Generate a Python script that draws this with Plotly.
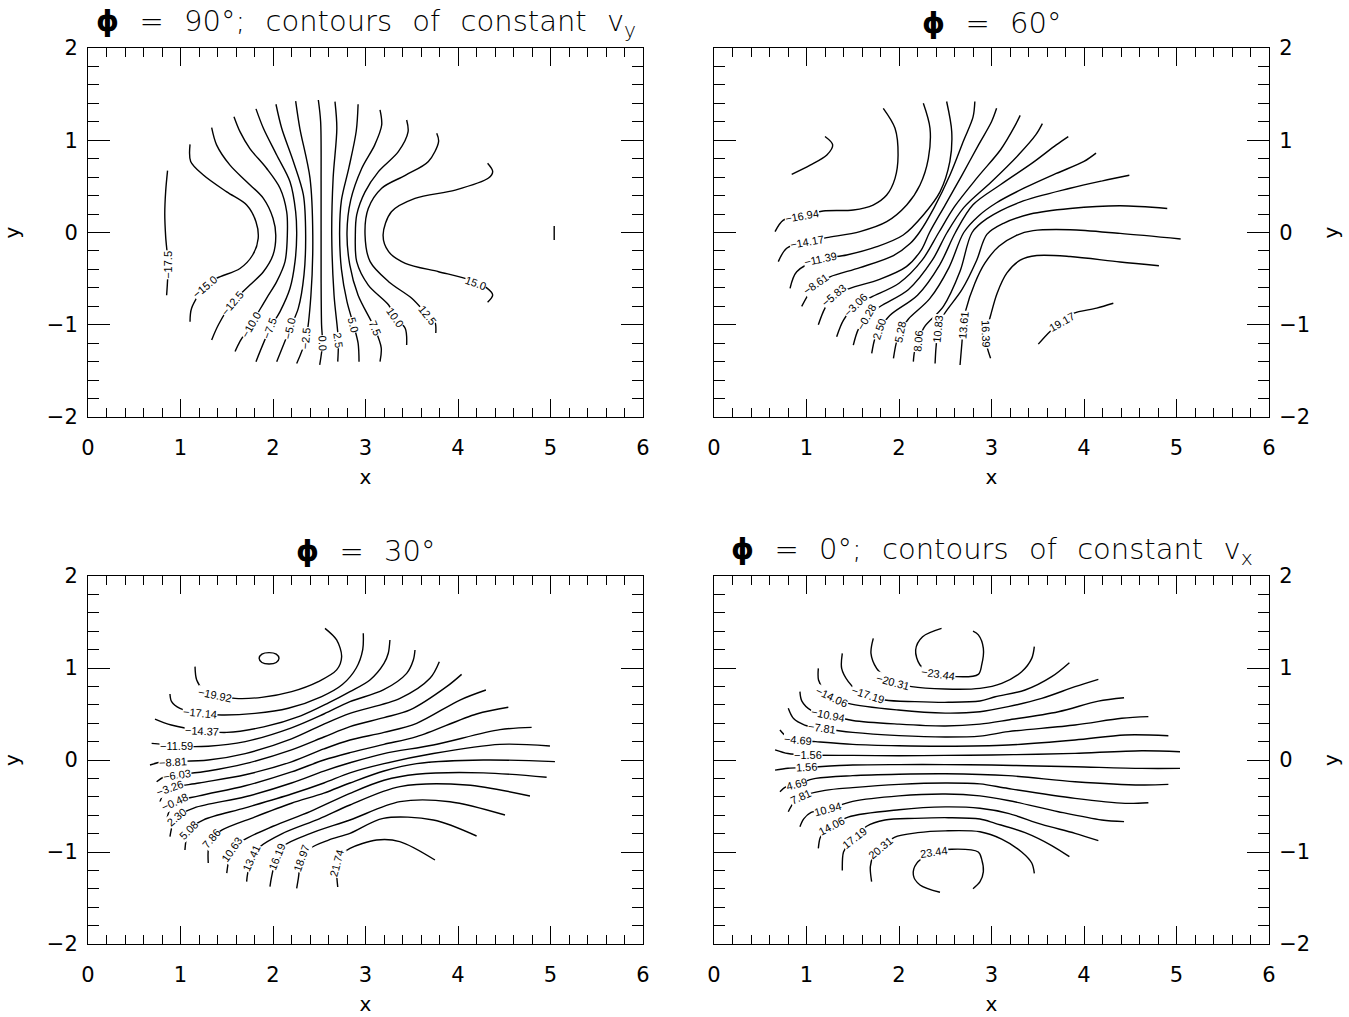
import plotly.graph_objects as go

# ===================== DATA =====================
# Panel phi = 90 deg : contours of constant v_y
P90_LEVELS = ["−17.5", "−15.0", "−12.5", "−10.0", "−7.5", "−5.0", "−2.5", "0.0",
              "2.5", "5.0", "7.5", "10.0", "12.5", "15.0", ""]
P90_X = [
    [0.86, 0.84, 0.83, 0.84, 0.865, 0.85],
    [1.103, 1.11, 1.247, 1.5, 1.715, 1.816, 1.84, 1.78, 1.643, 1.39, 1.26, 1.12, 1.103],
    [1.337, 1.39, 1.535, 1.715, 1.896, 2.0, 2.03, 2.0, 1.896, 1.75, 1.56, 1.41, 1.337],
    [1.578, 1.643, 1.75, 1.93, 2.076, 2.148, 2.155, 2.13, 2.04, 1.93, 1.76, 1.643, 1.59],
    [1.816, 1.896, 2.04, 2.184, 2.245, 2.256, 2.238, 2.184, 2.076, 1.968, 1.816],
    [2.032, 2.094, 2.22, 2.328, 2.353, 2.335, 2.274, 2.184, 2.04],
    [2.245, 2.29, 2.40, 2.43, 2.41, 2.357, 2.256],
    [2.49, 2.515, 2.52, 2.52, 2.525, 2.535, 2.505],
    [2.67, 2.69, 2.65, 2.635, 2.66, 2.706, 2.70],
    [2.92, 2.90, 2.82, 2.74, 2.72, 2.74, 2.80, 2.87, 2.92, 2.93],
    [3.157, 3.175, 3.10, 2.96, 2.84, 2.80, 2.83, 2.92, 3.10, 3.17, 3.157],
    [3.445, 3.46, 3.355, 3.14, 2.995, 2.905, 2.89, 2.905, 3.03, 3.25, 3.32, 3.43, 3.445],
    [3.77, 3.79, 3.68, 3.43, 3.175, 3.03, 2.995, 3.05, 3.25, 3.5, 3.67, 3.75, 3.76],
    [4.32, 4.375, 4.33, 3.97, 3.535, 3.28, 3.19, 3.25, 3.43, 3.79, 4.076, 4.19, 4.31, 4.375, 4.32],
    [5.04, 5.04],
]
P90_Y = [
    [0.67, 0.45, 0.20, -0.05, -0.35, -0.68],
    [0.956, 0.77, 0.623, 0.44, 0.298, 0.117, -0.063, -0.244, -0.39, -0.497, -0.59, -0.82, -0.967],
    [1.136, 0.95, 0.73, 0.55, 0.37, 0.154, -0.03, -0.244, -0.425, -0.57, -0.76, -1.0, -1.165],
    [1.255, 1.093, 0.91, 0.696, 0.48, 0.225, -0.027, -0.316, -0.533, -0.713, -1.0, -1.18, -1.29],
    [1.34, 1.13, 0.84, 0.55, 0.225, -0.027, -0.316, -0.605, -0.858, -1.04, -1.40],
    [1.39, 1.13, 0.77, 0.41, -0.027, -0.46, -0.82, -1.04, -1.40],
    [1.425, 1.13, 0.59, -0.027, -0.68, -1.147, -1.42],
    [1.436, 1.2, 0.5, -0.5, -1.0, -1.2, -1.436],
    [1.418, 1.13, 0.59, -0.027, -0.68, -1.165, -1.40],
    [1.39, 1.1, 0.7, 0.35, 0.0, -0.4, -0.75, -1.0, -1.2, -1.40],
    [1.33, 1.165, 0.95, 0.696, 0.35, 0.0, -0.35, -0.68, -1.04, -1.25, -1.40],
    [1.22, 1.09, 0.876, 0.66, 0.44, 0.19, -0.027, -0.316, -0.57, -0.786, -0.913, -1.04, -1.22],
    [1.075, 0.985, 0.77, 0.62, 0.48, 0.26, -0.027, -0.316, -0.533, -0.713, -0.894, -0.967, -1.09],
    [0.75, 0.66, 0.59, 0.46, 0.37, 0.225, -0.027, -0.208, -0.334, -0.425, -0.497, -0.55, -0.60, -0.677, -0.757],
    [0.07, -0.08],
]
P90_LAB_X = [0.865, 1.26, 1.56, 1.76, 1.968, 2.184, 2.357, 2.535, 2.706, 2.87, 3.10, 3.32, 3.67, 4.19, None]
P90_LAB_Y = [-0.35, -0.59, -0.76, -1.0, -1.04, -1.04, -1.147, -1.2, -1.165, -1.0, -1.04, -0.913, -0.894, -0.55, None]
P90_LAB_ANG = [-90, -40, -50, -60, -70, -78, -85, 88, 82, 75, 68, 55, 52, 20, 0]

# Panel phi = 60 deg
P60_LEVELS = ["", "−16.94", "−14.17", "−11.39", "−8.61", "−5.83", "−3.06", "−0.28",
              "2.50", "5.28", "8.06", "10.83", "13.61", "16.39", "19.17"]
P60_X = [
    [0.84, 1.04, 1.22, 1.283, 1.20],
    [0.66, 0.75, 0.95, 1.18, 1.506, 1.72, 1.867, 1.957, 1.99, 1.957, 1.83],
    [0.695, 0.786, 1.0, 1.218, 1.578, 1.867, 2.083, 2.227, 2.317, 2.335, 2.263],
    [0.822, 0.894, 1.15, 1.435, 1.76, 2.046, 2.263, 2.443, 2.55, 2.57, 2.515],
    [0.948, 1.038, 1.10, 1.254, 1.578, 1.94, 2.12, 2.22, 2.38, 2.55, 2.70, 2.80, 2.82],
    [1.128, 1.2, 1.30, 1.47, 1.79, 2.08, 2.24, 2.33, 2.5, 2.68, 2.86, 3.0, 3.055],
    [1.326, 1.40, 1.53, 1.7, 2.0, 2.25, 2.43, 2.6, 2.85, 3.1, 3.25, 3.31],
    [1.506, 1.56, 1.65, 1.8, 2.1, 2.36, 2.52, 2.7, 3.0, 3.3, 3.48, 3.55],
    [1.705, 1.74, 1.79, 1.9, 2.2, 2.44, 2.61, 2.80, 3.1, 3.45, 3.70, 3.83],
    [1.94, 1.97, 2.01, 2.1, 2.33, 2.54, 2.70, 2.86, 3.05, 3.35, 3.7, 4.0, 4.13],
    [2.155, 2.17, 2.21, 2.27, 2.48, 2.66, 2.79, 2.95, 3.31, 3.85, 4.2, 4.49],
    [2.39, 2.40, 2.425, 2.48, 2.68, 2.84, 2.95, 3.13, 3.42, 3.85, 4.39, 4.90],
    [2.66, 2.68, 2.695, 2.72, 2.82, 2.93, 3.08, 3.27, 3.45, 3.85, 4.39, 5.045],
    [2.99, 2.95, 2.94, 2.99, 3.06, 3.165, 3.31, 3.49, 3.85, 4.39, 4.81],
    [3.506, 3.63, 3.76, 3.885, 4.137, 4.317],
]
P60_Y = [
    [0.63, 0.73, 0.84, 0.95, 1.04],
    [0.01, 0.135, 0.18, 0.233, 0.244, 0.298, 0.406, 0.587, 0.84, 1.13, 1.346],
    [-0.316, -0.17, -0.10, -0.056, 0.01, 0.117, 0.298, 0.515, 0.80, 1.13, 1.40],
    [-0.605, -0.425, -0.29, -0.244, -0.154, -0.027, 0.19, 0.44, 0.77, 1.093, 1.42],
    [-0.80, -0.64, -0.56, -0.48, -0.38, -0.25, -0.12, 0.0, 0.27, 0.62, 1.0, 1.25, 1.42],
    [-1.0, -0.82, -0.68, -0.605, -0.508, -0.37, -0.19, 0.0, 0.3, 0.62, 0.95, 1.2, 1.346],
    [-1.13, -0.95, -0.79, -0.70, -0.55, -0.30, 0.0, 0.28, 0.6, 0.9, 1.15, 1.27],
    [-1.22, -1.05, -0.92, -0.8, -0.62, -0.3, 0.0, 0.27, 0.55, 0.85, 1.06, 1.18],
    [-1.31, -1.15, -1.05, -0.9, -0.68, -0.35, 0.0, 0.3, 0.52, 0.76, 0.95, 1.04],
    [-1.364, -1.2, -1.075, -0.94, -0.72, -0.38, 0.0, 0.18, 0.32, 0.48, 0.64, 0.77, 0.86],
    [-1.40, -1.28, -1.18, -1.03, -0.8, -0.42, 0.0, 0.15, 0.33, 0.48, 0.56, 0.62],
    [-1.42, -1.25, -1.04, -0.9, -0.62, -0.3, -0.02, 0.10, 0.20, 0.26, 0.29, 0.26],
    [-1.436, -1.2, -1.0, -0.85, -0.55, -0.33, -0.15, -0.03, 0.02, 0.03, -0.01, -0.07],
    [-1.364, -1.23, -1.10, -0.9, -0.66, -0.44, -0.30, -0.25, -0.26, -0.32, -0.36],
    [-1.21, -1.075, -0.967, -0.876, -0.82, -0.767],
]
P60_LAB_X = [None, 0.95, 1.0, 1.15, 1.10, 1.30, 1.53, 1.65, 1.79, 2.01, 2.21, 2.425, 2.695, 2.94, 3.76]
P60_LAB_Y = [None, 0.18, -0.10, -0.29, -0.56, -0.68, -0.79, -0.92, -1.05, -1.075, -1.18, -1.04, -1.0, -1.10, -0.967]
P60_LAB_ANG = [0, -10, -10, -12, -35, -40, -45, -60, -72, -78, -85, -85, -85, 88, -30]

# Panel phi = 30 deg
P30_LEVELS = ["", "−19.92", "−17.14", "−14.37", "−11.59", "−8.81", "−6.03", "−3.26", "−0.48",
              "2.30", "5.08", "7.86", "10.63", "13.41", "16.19", "18.97", "21.74"]
P30_X = [
    [1.85, 1.88, 1.957, 2.035, 2.065, 2.035, 1.957, 1.88, 1.85],
    [1.157, 1.175, 1.25, 1.373, 1.589, 1.877, 2.202, 2.49, 2.688, 2.742, 2.688, 2.562],
    [0.886, 0.904, 0.994, 1.211, 1.445, 1.805, 2.165, 2.526, 2.75, 2.9, 2.97, 2.976],
    [0.724, 0.9, 1.229, 1.5, 1.9, 2.3, 2.6, 2.832, 3.048, 3.2, 3.246, 3.264],
    [0.688, 0.80, 0.958, 1.3, 1.7, 2.2, 2.55, 2.832, 3.192, 3.445, 3.517, 3.535],
    [0.67, 0.78, 0.922, 1.3, 1.7, 2.2, 2.55, 2.832, 3.373, 3.697, 3.798],
    [0.742, 0.82, 0.958, 1.3, 1.7, 2.2, 2.55, 2.832, 3.2, 3.481, 3.877, 4.039],
    [0.778, 0.82, 0.886, 1.2, 1.7, 2.2, 2.55, 2.832, 3.2, 3.553, 4.021, 4.302],
    [0.85, 0.88, 0.94, 1.2, 1.7, 2.2, 2.55, 2.832, 3.2, 3.553, 4.201, 4.544],
    [0.886, 0.91, 0.96, 1.15, 1.7, 2.2, 2.55, 2.832, 3.2, 3.733, 4.454, 4.796],
    [1.048, 1.06, 1.09, 1.25, 1.7, 2.2, 2.55, 2.832, 3.2, 3.733, 4.454, 4.994],
    [1.30, 1.30, 1.33, 1.45, 1.8, 2.2, 2.55, 2.832, 3.2, 3.553, 4.273, 5.048],
    [1.50, 1.52, 1.56, 1.7, 2.0, 2.4, 2.832, 3.2, 3.553, 4.273, 4.958],
    [1.715, 1.726, 1.769, 1.85, 2.1, 2.5, 2.832, 3.373, 4.093, 4.778],
    [1.967, 1.985, 2.039, 2.12, 2.4, 2.832, 3.373, 3.913, 4.508],
    [2.256, 2.274, 2.31, 2.4, 2.6, 2.832, 3.192, 3.733, 4.201],
    [2.70, 2.69, 2.69, 2.75, 2.832, 3.12, 3.37, 3.751],
]
P30_Y = [
    [1.105, 1.15, 1.167, 1.15, 1.105, 1.06, 1.043, 1.06, 1.105],
    [1.015, 0.87, 0.76, 0.707, 0.67, 0.681, 0.743, 0.852, 0.979, 1.123, 1.305, 1.431],
    [0.717, 0.634, 0.56, 0.507, 0.489, 0.507, 0.562, 0.689, 0.82, 1.0, 1.2, 1.377],
    [0.445, 0.38, 0.319, 0.30, 0.36, 0.48, 0.62, 0.743, 0.87, 1.05, 1.16, 1.305],
    [0.181, 0.17, 0.152, 0.15, 0.2, 0.35, 0.50, 0.634, 0.761, 0.942, 1.087, 1.196],
    [-0.054, -0.025, -0.018, 0.0, 0.07, 0.23, 0.39, 0.507, 0.67, 0.888, 1.069],
    [-0.236, -0.185, -0.163, -0.12, -0.04, 0.11, 0.25, 0.363, 0.46, 0.544, 0.797, 0.931],
    [-0.453, -0.36, -0.308, -0.25, -0.16, -0.02, 0.12, 0.217, 0.30, 0.399, 0.652, 0.761],
    [-0.652, -0.55, -0.46, -0.39, -0.28, -0.13, 0.0, 0.08, 0.17, 0.254, 0.50, 0.573],
    [-0.833, -0.72, -0.62, -0.52, -0.40, -0.25, -0.12, -0.03, 0.07, 0.163, 0.33, 0.355],
    [-0.978, -0.87, -0.76, -0.65, -0.52, -0.37, -0.25, -0.14, -0.04, 0.07, 0.17, 0.152],
    [-1.12, -0.98, -0.86, -0.76, -0.62, -0.47, -0.36, -0.25, -0.12, -0.04, 0.0, -0.018],
    [-1.23, -1.10, -0.97, -0.86, -0.72, -0.56, -0.362, -0.22, -0.155, -0.14, -0.188],
    [-1.322, -1.232, -1.069, -0.95, -0.80, -0.64, -0.489, -0.29, -0.272, -0.391],
    [-1.377, -1.268, -1.051, -0.93, -0.80, -0.652, -0.453, -0.453, -0.598],
    [-1.395, -1.286, -1.069, -0.96, -0.87, -0.797, -0.634, -0.652, -0.826],
    [-1.38, -1.27, -1.12, -1.02, -0.96, -0.87, -0.887, -1.087],
]
P30_LAB_X = [None, 1.373, 1.211, 1.229, 0.958, 0.922, 0.958, 0.886, 0.94, 0.96, 1.09, 1.33, 1.56, 1.769, 2.039, 2.31, 2.69]
P30_LAB_Y = [None, 0.707, 0.507, 0.319, 0.152, -0.018, -0.163, -0.308, -0.46, -0.62, -0.76, -0.86, -0.97, -1.069, -1.051, -1.069, -1.12]
P30_LAB_ANG = [0, 12, 5, 3, 0, -3, -8, -20, -25, -40, -45, -50, -55, -65, -68, -70, -75]

# Panel phi = 0 deg : contours of constant v_x
P0_LEVELS = ["−23.44", "−20.31", "−17.19", "−14.06", "−10.94", "−7.81", "−4.69", "−1.56",
             "1.56", "4.69", "7.81", "10.94", "14.06", "17.19", "20.31", "23.44"]
P0_X = [
    [2.46, 2.255, 2.18, 2.227, 2.371, 2.623, 2.857, 2.894, 2.912, 2.858, 2.80],
    [1.722, 1.697, 1.758, 1.848, 1.93, 2.137, 2.497, 2.875, 3.11, 3.326, 3.435, 3.463],
    [1.387, 1.38, 1.452, 1.55, 1.668, 1.848, 2.173, 2.533, 2.875, 3.04, 3.363, 3.651, 3.842],
    [1.128, 1.13, 1.19, 1.272, 1.452, 1.992, 2.5, 2.875, 3.18, 3.543, 3.903, 4.155],
    [0.929, 0.95, 1.05, 1.235, 1.5, 2.0, 2.5, 2.875, 3.18, 3.723, 4.155, 4.433],
    [0.803, 0.86, 0.98, 1.17, 1.5, 2.0, 2.5, 2.875, 3.18, 3.903, 4.408, 4.696],
    [0.713, 0.78, 0.911, 1.1, 1.5, 2.0, 2.5, 3.18, 3.903, 4.444, 4.912],
    [0.66, 0.8, 1.02, 1.5, 2.0, 2.5, 3.0, 3.5, 3.903, 4.624, 5.038],
    [0.66, 0.8, 1.0, 1.5, 2.0, 2.5, 3.0, 3.5, 3.903, 4.624, 5.038],
    [0.713, 0.78, 0.893, 1.1, 1.5, 2.0, 2.5, 3.18, 3.903, 4.624, 4.912],
    [0.803, 0.85, 0.93, 1.2, 1.5, 2.0, 2.5, 2.875, 3.18, 3.903, 4.444, 4.696],
    [0.929, 0.97, 1.05, 1.236, 1.5, 2.0, 2.5, 2.875, 3.18, 3.723, 4.191, 4.433],
    [1.128, 1.146, 1.19, 1.272, 1.45, 2.0, 2.5, 2.875, 3.18, 3.543, 3.903, 4.155],
    [1.387, 1.40, 1.45, 1.52, 1.65, 1.848, 2.173, 2.533, 2.875, 3.04, 3.363, 3.651, 3.842],
    [1.704, 1.69, 1.72, 1.80, 1.95, 2.2, 2.5, 2.875, 3.11, 3.326, 3.435, 3.463],
    [2.443, 2.227, 2.155, 2.191, 2.38, 2.569, 2.857, 2.894, 2.912, 2.876, 2.80],
]
P0_Y = [
    [1.431, 1.34, 1.196, 1.033, 0.953, 0.906, 0.931, 1.033, 1.214, 1.36, 1.40],
    [1.322, 1.159, 0.996, 0.906, 0.85, 0.797, 0.772, 0.779, 0.833, 0.96, 1.105, 1.232],
    [1.159, 0.996, 0.851, 0.75, 0.706, 0.652, 0.634, 0.627, 0.641, 0.688, 0.761, 0.906, 1.058],
    [0.996, 0.87, 0.76, 0.69, 0.616, 0.543, 0.51, 0.525, 0.58, 0.67, 0.797, 0.877],
    [0.743, 0.64, 0.54, 0.49, 0.43, 0.39, 0.37, 0.39, 0.435, 0.525, 0.64, 0.677],
    [0.562, 0.45, 0.38, 0.345, 0.30, 0.265, 0.25, 0.26, 0.308, 0.38, 0.453, 0.471],
    [0.326, 0.26, 0.217, 0.2, 0.17, 0.155, 0.15, 0.163, 0.217, 0.272, 0.264],
    [0.11, 0.07, 0.054, 0.05, 0.047, 0.05, 0.055, 0.062, 0.072, 0.101, 0.09],
    [-0.11, -0.09, -0.08, -0.055, -0.05, -0.05, -0.055, -0.065, -0.073, -0.091, -0.091],
    [-0.344, -0.29, -0.26, -0.2, -0.17, -0.155, -0.15, -0.17, -0.236, -0.272, -0.265],
    [-0.562, -0.48, -0.40, -0.33, -0.30, -0.265, -0.25, -0.26, -0.31, -0.417, -0.471, -0.464],
    [-0.725, -0.64, -0.57, -0.53, -0.45, -0.39, -0.37, -0.39, -0.44, -0.562, -0.652, -0.67],
    [-0.96, -0.85, -0.77, -0.72, -0.62, -0.54, -0.51, -0.525, -0.58, -0.70, -0.797, -0.877],
    [-1.2, -1.0, -0.92, -0.85, -0.72, -0.652, -0.634, -0.627, -0.641, -0.688, -0.79, -0.93, -1.051],
    [-1.322, -1.16, -1.05, -0.96, -0.84, -0.79, -0.77, -0.78, -0.86, -1.0, -1.12, -1.232],
    [-1.438, -1.359, -1.25, -1.123, -1.0, -0.97, -1.0, -1.08, -1.214, -1.323, -1.40],
]
P0_LAB_X = [2.42, 1.93, 1.668, 1.272, 1.235, 1.17, 0.911, 1.02, 1.0, 0.893, 0.93, 1.236, 1.272, 1.52, 1.80, 2.38]
P0_LAB_Y = [0.93, 0.85, 0.706, 0.69, 0.49, 0.345, 0.217, 0.054, -0.08, -0.26, -0.40, -0.53, -0.72, -0.85, -0.96, -1.0]
P0_LAB_ANG = [8, 15, 18, 25, 12, 8, 5, 0, -3, -15, -25, -15, -28, -38, -40, -8]

SP = "\u2002\u2009"   # wide word gap, like the original vector font
TITLES = [f"<b>ϕ</b>{SP}={SP}90°;{SP}contours{SP}of{SP}constant{SP}v<sub>y</sub>",
          f"<b>ϕ</b>{SP}={SP}60°",
          f"<b>ϕ</b>{SP}={SP}30°",
          f"<b>ϕ</b>{SP}={SP}0°;{SP}contours{SP}of{SP}constant{SP}v<sub>x</sub>"]
X_TICKS = [0, 1, 2, 3, 4, 5, 6]
Y_TICKS = [-2, -1, 0, 1, 2]

# ===================== FIGURE =====================
W, H = 1349, 1017
FONT = "DejaVu Sans"

panels = [
    dict(levels=P90_LEVELS, xs=P90_X, ys=P90_Y, lx=P90_LAB_X, ly=P90_LAB_Y, la=P90_LAB_ANG,
         px=(88, 643), py=(48, 417), side="left"),
    dict(levels=P60_LEVELS, xs=P60_X, ys=P60_Y, lx=P60_LAB_X, ly=P60_LAB_Y, la=P60_LAB_ANG,
         px=(714, 1269), py=(48, 417), side="right"),
    dict(levels=P30_LEVELS, xs=P30_X, ys=P30_Y, lx=P30_LAB_X, ly=P30_LAB_Y, la=P30_LAB_ANG,
         px=(88, 643), py=(576, 944), side="left"),
    dict(levels=P0_LEVELS, xs=P0_X, ys=P0_Y, lx=P0_LAB_X, ly=P0_LAB_Y, la=P0_LAB_ANG,
         px=(714, 1269), py=(576, 944), side="right"),
]

fig = go.Figure()
layout = dict(width=W, height=H, margin=dict(l=0, r=0, t=0, b=0, autoexpand=False),
              paper_bgcolor="white", plot_bgcolor="white", showlegend=False)
annotations = []

for i, p in enumerate(panels):
    n = "" if i == 0 else str(i + 1)
    xref, yref = "x" + n, "y" + n
    xdom = [p["px"][0] / W, p["px"][1] / W]
    ydom = [1 - p["py"][1] / H, 1 - p["py"][0] / H]

    common = dict(ticks="inside", tickcolor="black", tickwidth=1, showline=True,
                  linecolor="black", linewidth=1, mirror="allticks", showgrid=False,
                  zeroline=False, automargin=False,
                  tickfont=dict(family=FONT, size=21, color="black"))
    layout["xaxis" + n] = dict(
        domain=xdom, anchor=yref, range=[0, 6], tickmode="array", tickvals=X_TICKS,
        ticklen=18, ticklabelstandoff=12,
        minor=dict(dtick=0.2, tick0=0, ticklen=9, ticks="inside", tickcolor="black", showgrid=False),
        title=dict(text="x", font=dict(family=FONT, size=20, color="black"), standoff=10),
        **common)
    layout["yaxis" + n] = dict(
        domain=ydom, anchor=xref, range=[-2, 2], tickmode="array", tickvals=Y_TICKS,
        ticklen=22, side=p["side"], ticklabelstandoff=5,
        minor=dict(dtick=0.2, tick0=-2, ticklen=11, ticks="inside", tickcolor="black", showgrid=False),
        title=dict(text="y", font=dict(family=FONT, size=20, color="black"),
                   standoff=24 if p["side"] == "left" else 14),
        **common)

    for lev, xs, ys, lx, ly, la in zip(p["levels"], p["xs"], p["ys"], p["lx"], p["ly"], p["la"]):
        fig.add_trace(go.Scatter(x=xs, y=ys, mode="lines", xaxis=xref, yaxis=yref,
                                 line=dict(color="black", width=1.4, shape="spline", smoothing=0.9),
                                 hoverinfo="skip"))
        if lev and lx is not None:
            annotations.append(dict(x=lx, y=ly, xref=xref, yref=yref, text=lev, showarrow=False,
                                    textangle=la, bgcolor="white", borderpad=0,
                                    font=dict(family="Liberation Sans", size=11, color="black")))

    # panel title
    annotations.append(dict(x=(xdom[0] + xdom[1]) / 2, y=1 - (p["py"][0] - 25) / H,
                            xref="paper", yref="paper", text=TITLES[i], showarrow=False,
                            xanchor="center", yanchor="middle",
                            font=dict(family=FONT, size=29, color="black", weight=300)))

layout["annotations"] = annotations
fig.update_layout(**layout)
fig.write_html("out.html")
